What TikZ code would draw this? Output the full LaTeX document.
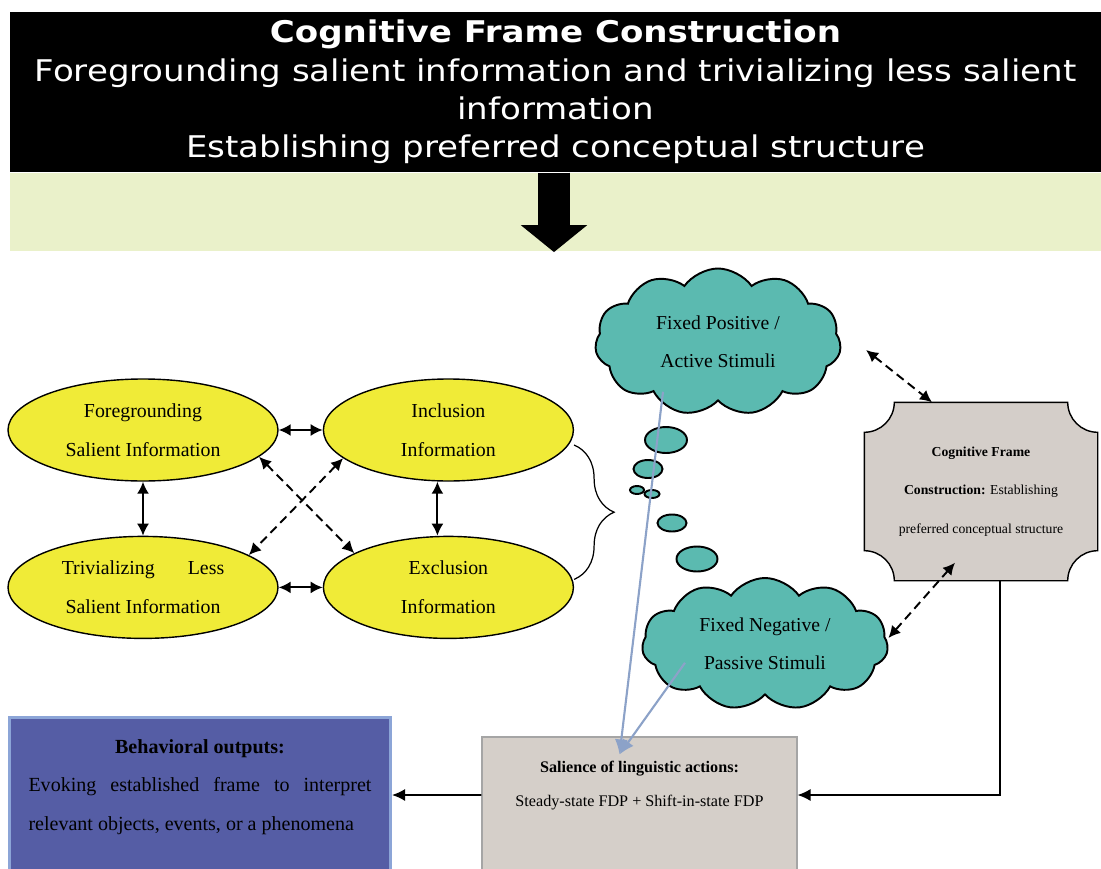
\documentclass[tikz,border=0pt]{standalone}
\usepackage{fontspec}
\setmainfont{Liberation Serif}
\newfontfamily\headfont[FakeStretch=1.14]{DejaVu Sans}
\usetikzlibrary{arrows.meta, positioning, shapes.geometric, shapes.symbols, decorations.pathreplacing, backgrounds}

\definecolor{infoyellow}{RGB}{240,235,55}
\definecolor{stimteal}{RGB}{91,186,176}
\definecolor{framegray}{RGB}{212,206,201}
\definecolor{salgray}{RGB}{213,207,201}
\definecolor{salborder}{RGB}{165,165,165}
\definecolor{behblue}{RGB}{85,93,165}
\definecolor{behborder}{RGB}{140,165,215}
\definecolor{bandgreen}{RGB}{234,241,202}
\definecolor{linkblue}{RGB}{140,162,200}

\begin{document}
\begin{tikzpicture}[thick]

  % Stili dei nodi
  \tikzstyle{info} = [ellipse, draw=black, line width=0.8pt, fill=infoyellow, minimum height=2.04cm, inner sep=0pt, align=center, font=\fontsize{11.3}{22}\selectfont]
  \tikzstyle{stim} = [cloud, cloud puffs=11, cloud puff arc=110, draw=black, line width=1.1pt, fill=stimteal, inner sep=0pt, align=center, font=\fontsize{11.2}{21.5}\selectfont]
  \tikzstyle{bubble} = [ellipse, draw=black, line width=1.1pt, fill=stimteal, inner sep=0pt]
  \tikzstyle{link} = [{Latex[length=2.4mm, width=2.4mm]}-{Latex[length=2.4mm, width=2.4mm]}, line width=1.1pt]
  \tikzstyle{dlink} = [link, dash pattern=on 5pt off 3pt]
  \tikzstyle{flow} = [-{Latex[length=2.6mm, width=2.4mm]}, line width=0.9pt]
  \tikzstyle{bluelink} = [-{Latex[length=3mm, width=2.6mm]}, draw=linkblue, line width=1.2pt]

  \useasboundingbox (0,0) rectangle (22.02,-17.38);

  % Titolo
  \node[fill=black, text=white, minimum width=21.82cm, minimum height=3.2cm, inner sep=0pt, align=center, font=\headfont\fontsize{17}{21.8}\selectfont] (header) at (11.11,-1.84) {\textbf{Cognitive Frame Construction}\\Foregrounding salient information and trivializing less salient\\information\\Establishing preferred conceptual structure};
  \node[fill=bandgreen, minimum width=21.82cm, minimum height=1.56cm, inner sep=0pt, below=0pt of header] (band) {};
  \draw[line width=0.64cm, -{Triangle[width=1.3cm, length=0.54cm]}] ([xshift=-0.03cm]header.south) -- ([xshift=-0.03cm]band.south);

  % Nodi
  \node[info, minimum width=5.4cm] (fg) at (2.86,-8.6) {Foregrounding\\Salient Information};
  \node[info, minimum width=5.0cm, right=0.88cm of fg] (inc) {Inclusion\\Information};
  \node[info, minimum width=5.4cm, below=1.08cm of fg] (triv) {Trivializing\hspace{0.66cm}Less\\Salient Information};
  \node[info, minimum width=5.0cm, below=1.08cm of inc] (exc) {Exclusion\\Information};

  \node[stim, aspect=1.67, minimum width=4.92cm, minimum height=2.94cm] (pos) at (14.36,-6.84) {Fixed Positive /\\Active Stimuli};
  \node[stim, aspect=1.86, minimum width=4.92cm, minimum height=2.64cm] (neg) at (15.3,-12.88) {Fixed Negative /\\Passive Stimuli};

  \foreach \n/\x/\y/\w/\h in {b1/13.32/-8.8/0.84/0.52, b2/12.96/-9.38/0.58/0.36, b3/12.74/-9.8/0.28/0.16, b4/13.04/-9.88/0.3/0.16, b5/13.44/-10.46/0.58/0.34, b6/13.94/-11.18/0.82/0.5}
    \node[bubble, minimum width=\w cm, minimum height=\h cm] (\n) at (\x,\y) {};

  \node[minimum width=4.64cm, minimum height=3.54cm, inner sep=0pt, align=center, font=\fontsize{7.8}{22}\selectfont] (cfc) at (19.62,-9.83) {\textbf{Cognitive Frame}\\\textbf{Construction:} Establishing\\preferred conceptual structure};
  \begin{scope}[on background layer]
    \filldraw[fill=framegray, draw=black, line width=0.8pt] ([xshift=0.6cm]cfc.north west) -- ([xshift=-0.6cm]cfc.north east) arc[start angle=180, end angle=270, radius=0.6cm] -- ([yshift=0.6cm]cfc.south east) arc[start angle=90, end angle=180, radius=0.6cm] -- ([xshift=0.6cm]cfc.south west) arc[start angle=0, end angle=90, radius=0.6cm] -- ([yshift=-0.6cm]cfc.north west) arc[start angle=270, end angle=360, radius=0.6cm] -- cycle;
  \end{scope}

  \node[draw=salborder, line width=0.6pt, fill=salgray, minimum width=6.3cm, minimum height=2.76cm, inner sep=0pt] (sal) at (12.79,-16.12) {};
  \node[align=center, font=\fontsize{9.2}{19.3}\selectfont] (saltext) at ([yshift=-0.98cm]sal.north) {\textbf{Salience of linguistic actions:}\\Steady-state FDP + Shift-in-state FDP};

  \node[draw=behborder, line width=0.06cm, fill=behblue, minimum width=7.62cm, minimum height=3.4cm, inner sep=0pt] (beh) at (4.0,-16.05) {};
  \node[text width=6.86cm, align=justify, inner sep=0pt, font=\fontsize{11.4}{21.8}\selectfont] (behtext) at ([yshift=-1.42cm]beh.north) {\makebox[\linewidth]{\textbf{Behavioral outputs:}}\\Evoking established frame to interpret \mbox{relevant} objects, events, or a phenomena};

  % Frecce
  \draw[link] (fg) -- (inc);
  \draw[link] (triv) -- (exc);
  \draw[link] (fg) -- (triv);
  \draw[link] ([xshift=-0.22cm]inc.south) -- ([xshift=-0.22cm]exc.north);
  \draw[dlink] (fg.-13) -- (exc.160);
  \draw[dlink] (inc.195) -- (triv.17);

  \draw[line width=0.7pt, decorate, decoration={brace, amplitude=0.8cm}] ([yshift=-0.3cm]inc.east) -- ([yshift=0.16cm]exc.east);

  \draw[dlink] ([xshift=0.5cm, yshift=-0.16cm]pos.east) -- ([xshift=-0.98cm]cfc.north);
  \draw[dlink] ([yshift=0.12cm]neg.east) -- ([xshift=-0.52cm, yshift=0.36cm]cfc.south);

  \coordinate (tip) at ([xshift=-0.4cm, yshift=-0.36cm]sal.north);
  \draw[bluelink] ([xshift=-1.1cm, yshift=0.2cm]pos.south) -- (tip);
  \draw[bluelink] ([xshift=-1.6cm, yshift=0.66cm]neg.south) -- (tip);

  \draw[flow] ([xshift=0.38cm]cfc.south) |- ([yshift=0.22cm]sal.east);
  \draw[flow] ([yshift=0.22cm]sal.west) -- ([yshift=0.15cm]beh.east);

\end{tikzpicture}
\end{document}
